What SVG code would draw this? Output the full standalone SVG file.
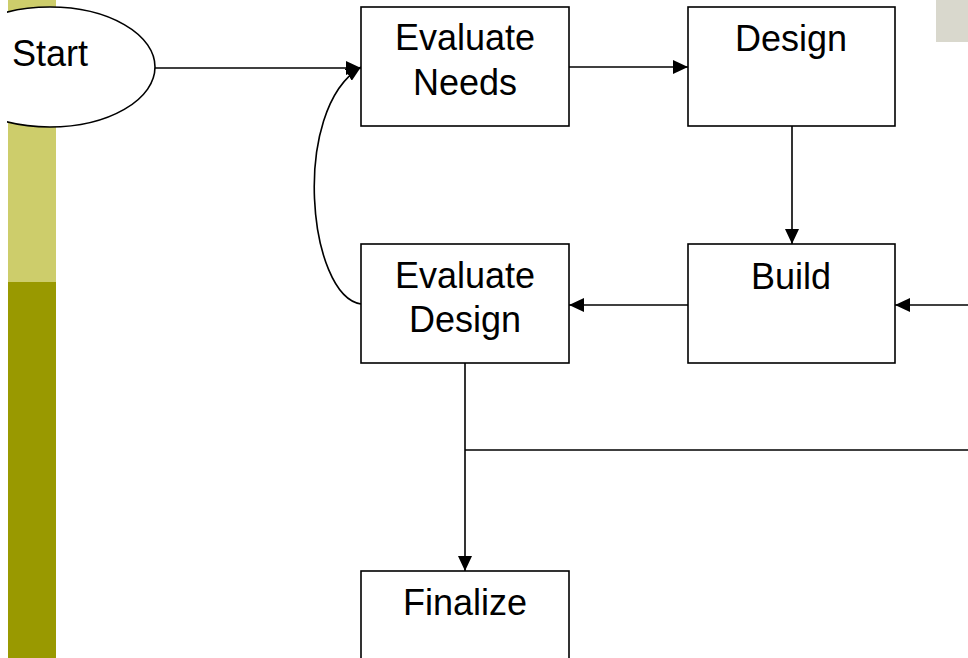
<svg xmlns="http://www.w3.org/2000/svg" width="968" height="658" viewBox="0 0 968 658">
<style>
.box{fill:#fff;stroke:#000;stroke-width:1.6}
.lbl{font-family:"Liberation Sans",Arial,sans-serif;font-size:36px;fill:#000;text-anchor:middle}
.con{fill:none;stroke:#000;stroke-width:1.6}
</style>
<defs>
<marker id="ah" markerUnits="userSpaceOnUse" markerWidth="16" markerHeight="14" refX="15" refY="7" orient="auto">
<path d="M0,0 L15,7 L0,14 Z" fill="#000"/>
</marker>
<clipPath id="clipL"><rect x="7" y="0" width="961" height="658"/></clipPath>
</defs>
<rect width="968" height="658" fill="#fff"/>
<g id="background">
<rect x="8" y="0" width="48" height="282" fill="#CDCD6B"/>
<rect x="8" y="282" width="48" height="376" fill="#999900"/>
<rect x="936" y="0" width="32" height="42" fill="#D9D8CD"/>
</g>
<g id="connectors">
<line class="con" x1="155" y1="68" x2="361" y2="68" marker-end="url(#ah)"/>
<line class="con" x1="569" y1="67" x2="688" y2="67" marker-end="url(#ah)"/>
<line class="con" x1="792" y1="126" x2="792" y2="244" marker-end="url(#ah)"/>
<line class="con" x1="968" y1="305" x2="895" y2="305" marker-end="url(#ah)"/>
<line class="con" x1="688" y1="305" x2="569" y2="305" marker-end="url(#ah)"/>
<path class="con" d="M361,304 C308,296 290,110 361,67" marker-end="url(#ah)"/>
<line class="con" x1="465" y1="363" x2="465" y2="571" marker-end="url(#ah)"/>
<line class="con" x1="465" y1="450" x2="968" y2="450" stroke-width="2.2"/>
</g>
<g id="start" clip-path="url(#clipL)">
<ellipse cx="50" cy="67" rx="105" ry="60" class="box"/>
<text x="50" y="66" class="lbl">Start</text>
</g>
<g id="evaluate-needs">
<rect x="361" y="7" width="208" height="119" class="box"/>
<text x="465" y="50" class="lbl">Evaluate</text>
<text x="465" y="95" class="lbl">Needs</text>
</g>
<g id="design">
<rect x="688" y="7" width="207" height="119" class="box"/>
<text x="791" y="51" class="lbl">Design</text>
</g>
<g id="build">
<rect x="688" y="244" width="207" height="119" class="box"/>
<text x="791" y="289" class="lbl">Build</text>
</g>
<g id="evaluate-design">
<rect x="361" y="244" width="208" height="119" class="box"/>
<text x="465" y="288" class="lbl">Evaluate</text>
<text x="465" y="332" class="lbl">Design</text>
</g>
<g id="finalize">
<rect x="361" y="571" width="208" height="119" class="box"/>
<text x="465" y="615" class="lbl">Finalize</text>
</g>
</svg>
